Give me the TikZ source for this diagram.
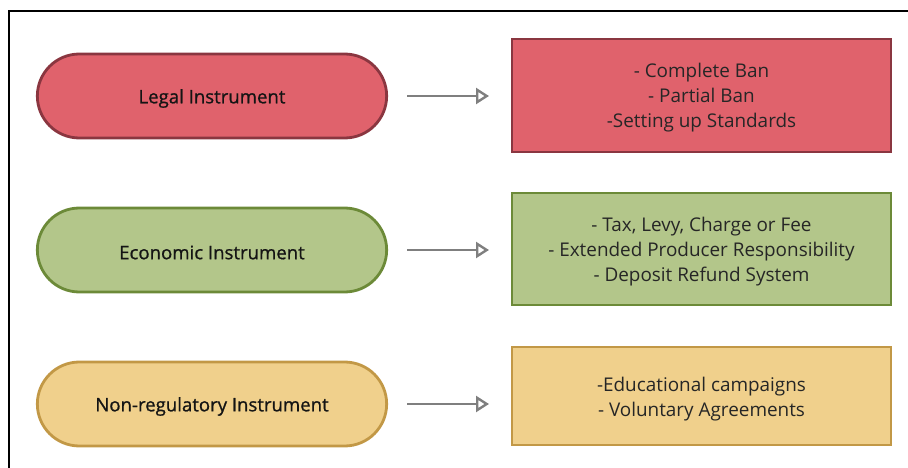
\documentclass[tikz,border=0pt]{standalone}
\usepackage{fontspec}
\setmainfont{Open Sans}
\newfontfamily\pillfont[FakeBold=0.9]{Open Sans}
\usetikzlibrary{arrows.meta,shapes.misc}
\definecolor{redfill}{HTML}{E0626C}
\definecolor{redline}{HTML}{8A3640}
\definecolor{greenfill}{HTML}{B3C68A}
\definecolor{greenline}{HTML}{6C8A38}
\definecolor{yellowfill}{HTML}{F0D08C}
\definecolor{yellowline}{HTML}{C29846}
\definecolor{arrowgray}{HTML}{7F7F7F}
% lower the text inside its node while keeping the node's reported size
\newcommand{\pilltext}[1]{\raisebox{-2.5pt}[\height][\depth]{#1}}
\newcommand{\listtext}[1]{\raisebox{-2.5pt}[\height][\depth]{\begin{tabular}{@{}c@{}}#1\end{tabular}}}
\tikzset{
  pill/.style={rounded rectangle, draw, line width=2.8pt, minimum width=356pt, minimum height=84pt,
    font=\pillfont\fontsize{18.6}{24}\selectfont, text=black!92},
  listbox/.style={draw, line width=2.8pt, minimum width=379pt, inner sep=0pt,
    font=\fontsize{18.9}{25}\selectfont, text=black!85},
  link/.style={draw=arrowgray, line width=2.6pt, -{Triangle[open, length=13pt, width=16pt, line width=2.4pt]}}
}
\begin{document}
\begin{tikzpicture}[x=1pt,y=-1pt]
\useasboundingbox (0,0) rectangle (908,468);
% outer frame (only top and left edges fall inside the page)
\draw[line width=1.8pt] (9,470) -- (9,11) -- (910,11);

\node[pill, fill=redfill, draw=redline] (legal) at (212,96) {\pilltext{Legal Instrument}};
\node[pill, fill=greenfill, draw=greenline] (econ) at (212,250) {\pilltext{Economic Instrument}};
\node[pill, fill=yellowfill, draw=yellowline] (nonreg) at (212,404) {\pilltext{Non-regulatory Instrument}};

\node[listbox, fill=redfill, draw=redline, minimum height=113pt] (legalbox) at (701.5,95.5)
  {\listtext{- Complete Ban\\- Partial Ban\\-Setting up Standards}};
\node[listbox, fill=greenfill, draw=greenline, minimum height=112pt] (econbox) at (701.5,249)
  {\listtext{- Tax, Levy, Charge or Fee\\- Extended Producer Responsibility\\- Deposit Refund System}};
\node[listbox, fill=yellowfill, draw=yellowline, minimum height=98pt] (nonregbox) at (701.5,396)
  {\listtext{-Educational campaigns\\- Voluntary Agreements}};

\coordinate (a1) at (407,96); \coordinate (b1) at (489,96);
\coordinate (a2) at (407,250); \coordinate (b2) at (489,250);
\coordinate (a3) at (407,404); \coordinate (b3) at (489,404);
\draw[link] (a1) -- (b1);
\draw[link] (a2) -- (b2);
\draw[link] (a3) -- (b3);
\end{tikzpicture}
\end{document}
